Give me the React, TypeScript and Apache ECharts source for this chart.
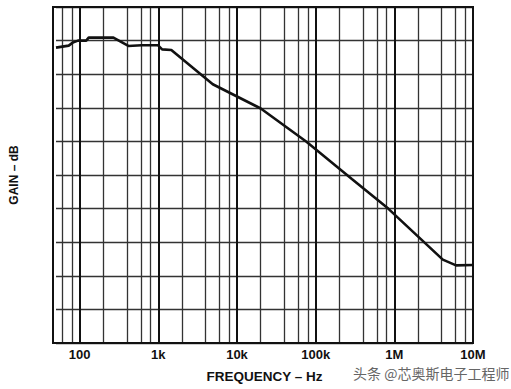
import React, { useEffect, useRef } from "react";
import * as echarts from "echarts";

// frequency in log10(Hz), gain in grid divisions (chart has no gain tick labels)
const freqLog = [1.699, 1.861, 1.912, 1.979, 2.083, 2.114, 2.429, 2.619, 2.787, 2.997, 3.048, 3.165, 3.692, 4.302, 4.883, 5.46, 5.922, 6.616, 6.785, 7.0];
const gain = [8.79, 8.85, 8.94, 9.0, 9.0, 9.09, 9.09, 8.84, 8.86, 8.86, 8.74, 8.72, 7.7, 6.98, 5.99, 4.88, 4.0, 2.48, 2.31, 2.32];

const decadeTicks = [2, 3, 4, 5, 6, 7];
const decadeLabels = ["100", "1k", "10k", "100k", "1M", "10M"];
const minorMultipliers = [2, 4, 6, 8];
const preDecadeMinor = [60, 80];

export default function App() {
  const ref = useRef<HTMLDivElement>(null);
  useEffect(() => {
    const chart = echarts.init(ref.current!, undefined, { renderer: "svg" });
    const minorLines: number[] = [];
    preDecadeMinor.forEach((v) => minorLines.push(Math.log10(v)));
    [2, 3, 4, 5, 6].forEach((d) =>
      minorMultipliers.forEach((m) => minorLines.push(d + Math.log10(m)))
    );
    const majorLines = decadeTicks.slice(0, 5);
    const gridData = [
      ...minorLines.map((x) => ({ xAxis: x, lineStyle: { color: "#333", width: 1.3, type: "solid" } })),
      ...majorLines.map((x) => ({ xAxis: x, lineStyle: { color: "#111", width: 2, type: "solid" } })),
    ];
    const font = "Liberation Sans, Arial, sans-serif";
    chart.setOption({
      animation: false,
      grid: { left: 53, top: 7, right: 38, bottom: 46, show: false },
      xAxis: {
        type: "value",
        min: 1.699,
        max: 7,
        axisLine: { show: false },
        axisTick: { show: false },
        splitLine: { show: false },
        axisLabel: {
          customValues: decadeTicks,
          formatter: (v: number) => decadeLabels[decadeTicks.indexOf(Math.round(v))] ?? "",
          fontFamily: font,
          fontWeight: "bold",
          fontSize: 13,
          color: "#111",
          margin: 5,
          showMinLabel: true,
          showMaxLabel: true,
        },
        name: "FREQUENCY – Hz",
        nameLocation: "middle",
        nameGap: 26,
        nameTextStyle: { fontFamily: font, fontWeight: "bold", fontSize: 13.5, color: "#111" },
      },
      yAxis: {
        type: "value",
        min: 0,
        max: 10,
        interval: 1,
        axisLine: { show: false },
        axisTick: { show: false },
        axisLabel: { show: false },
        splitLine: { show: true, lineStyle: { color: "#333", width: 1.4 } },
        name: "GAIN – dB",
        nameLocation: "middle",
        nameGap: 36,
        nameTextStyle: { fontFamily: font, fontWeight: "bold", fontSize: 12, color: "#111" },
        nameRotate: 90,
      },
      graphic: [
        {
          type: "rect",
          shape: { x: 53, y: 7, width: 420, height: 336 },
          style: { fill: "none", stroke: "#111", lineWidth: 2 },
          z: 10,
        },
        {
          type: "text",
          x: 353,
          y: 366,
          style: { text: "头条 @芯奥斯电子工程师", font: "14px 'Noto Sans CJK SC', sans-serif", fill: "#666" },
          z: 10,
        },
      ],
      series: [
        {
          type: "line",
          data: [],
          z: 1,
          silent: true,
          markLine: { silent: true, symbol: "none", label: { show: false }, data: gridData, animation: false },
        },
        {
          type: "line",
          data: freqLog.map((f, i) => [f, gain[i]]),
          showSymbol: false,
          lineStyle: { color: "#111", width: 2.6 },
          z: 5,
        },
      ],
    });
    return () => chart.dispose();
  }, []);
  return <div ref={ref} style={{ width: 511, height: 389, position: "absolute", left: 0, top: 0 }} />;
}
